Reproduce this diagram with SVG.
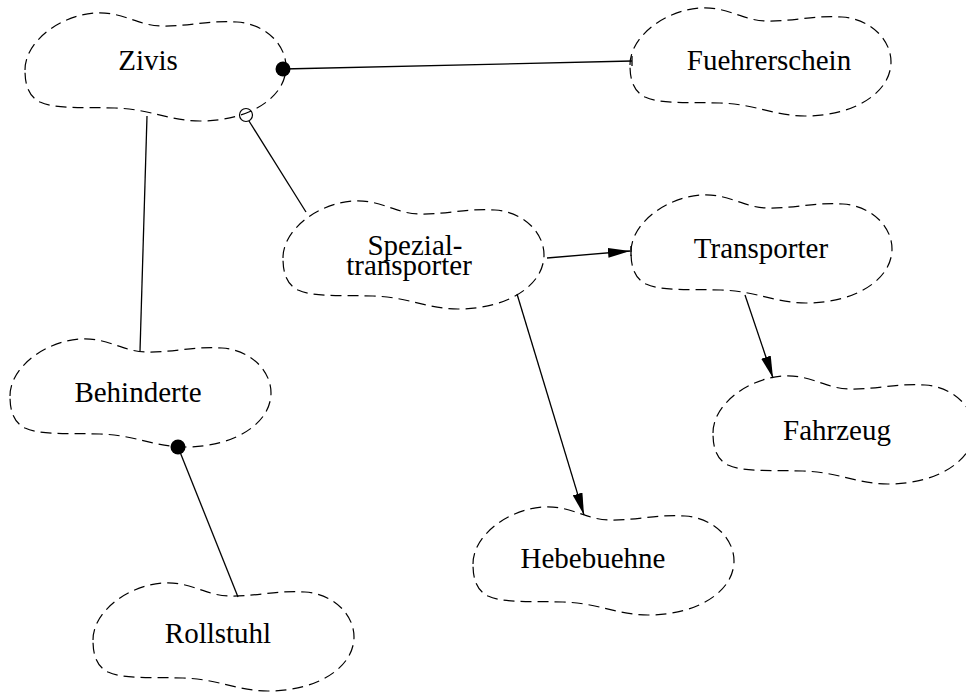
<svg xmlns="http://www.w3.org/2000/svg" xmlns:xlink="http://www.w3.org/1999/xlink" width="966" height="693" viewBox="0 0 966 693">
  <style>
    .blob { fill: none; stroke: #000; stroke-width: 1.2; stroke-dasharray: 11 6; }
    .lbl { font-family: "Liberation Serif", "Times New Roman", serif; font-size: 29px; fill: #000; text-anchor: middle; }
    .edge { stroke: #000; stroke-width: 1.3; fill: none; }
    .arrow { stroke: #000; stroke-width: 1.3; fill: none; marker-end: url(#head); }
  </style>
  <defs>
    <!-- cloud-shaped entity outline, 261 x 109 -->
    <path id="cloud" d="M 0,58 C 0,28 38,2 72,1 C 98,0 112,13 135,14 C 160,15 185,8 212,10 C 240,12 261,32 261,55 C 261,85 225,109 175,109 C 145,109 125,97 90,96 C 55,95 30,97 15,90 C 3,84 0,72 0,58 Z"/>
    <marker id="head" viewBox="0 0 22 10" refX="22" refY="5" markerWidth="22" markerHeight="10" markerUnits="userSpaceOnUse" orient="auto">
      <path d="M0,0 L22,5 L0,10 Z" fill="#000"/>
    </marker>
  </defs>

  <g id="connectors">
    <!-- Zivis - Fuehrerschein -->
    <line class="edge" x1="283" y1="69" x2="632" y2="61"/>
    <line class="edge" x1="632" y1="56" x2="632" y2="66"/>
    <circle cx="283" cy="69" r="7.5" fill="#000"/>
    <!-- Zivis - Spezialtransporter -->
    <line class="edge" x1="249" y1="121" x2="306" y2="212"/>
    <circle cx="246" cy="115" r="6.5" fill="#fff" stroke="#000" stroke-width="1.2"/>
    <!-- Zivis - Behinderte -->
    <line class="edge" x1="147" y1="116" x2="140" y2="351"/>
    <!-- Spezialtransporter -> Transporter -->
    <line class="arrow" x1="547" y1="258" x2="630" y2="251"/>
    <line class="edge" x1="631" y1="246" x2="631" y2="256"/>
    <!-- Spezialtransporter -> Hebebuehne -->
    <line class="arrow" x1="517" y1="294" x2="584" y2="515"/>
    <!-- Transporter -> Fahrzeug -->
    <line class="arrow" x1="745" y1="295" x2="773" y2="378"/>
    <!-- Behinderte - Rollstuhl -->
    <line class="edge" x1="178" y1="447" x2="238" y2="597"/>
    <circle cx="178" cy="447" r="7.5" fill="#000"/>
  </g>

  <g id="zivis">
    <use xlink:href="#cloud" class="blob" transform="translate(25,12)"/>
    <text class="lbl" x="148" y="70">Zivis</text>
  </g>
  <g id="fuehrerschein">
    <use xlink:href="#cloud" class="blob" transform="translate(630,7)"/>
    <text class="lbl" x="769" y="70">Fuehrerschein</text>
  </g>
  <g id="spezialtransporter">
    <use xlink:href="#cloud" class="blob" transform="translate(283,200)"/>
    <text class="lbl" x="415" y="255">Spezial-</text>
    <text class="lbl" x="409" y="275">transporter</text>
  </g>
  <g id="transporter">
    <use xlink:href="#cloud" class="blob" transform="translate(631,194)"/>
    <text class="lbl" x="761" y="258">Transporter</text>
  </g>
  <g id="behinderte">
    <use xlink:href="#cloud" class="blob" transform="translate(10,338)"/>
    <text class="lbl" x="138" y="402">Behinderte</text>
  </g>
  <g id="fahrzeug">
    <use xlink:href="#cloud" class="blob" transform="translate(713,375)"/>
    <text class="lbl" x="837" y="440">Fahrzeug</text>
  </g>
  <g id="hebebuehne">
    <use xlink:href="#cloud" class="blob" transform="translate(473,506)"/>
    <text class="lbl" x="593" y="568">Hebebuehne</text>
  </g>
  <g id="rollstuhl">
    <use xlink:href="#cloud" class="blob" transform="translate(93,582)"/>
    <text class="lbl" x="218" y="643">Rollstuhl</text>
  </g>
</svg>
